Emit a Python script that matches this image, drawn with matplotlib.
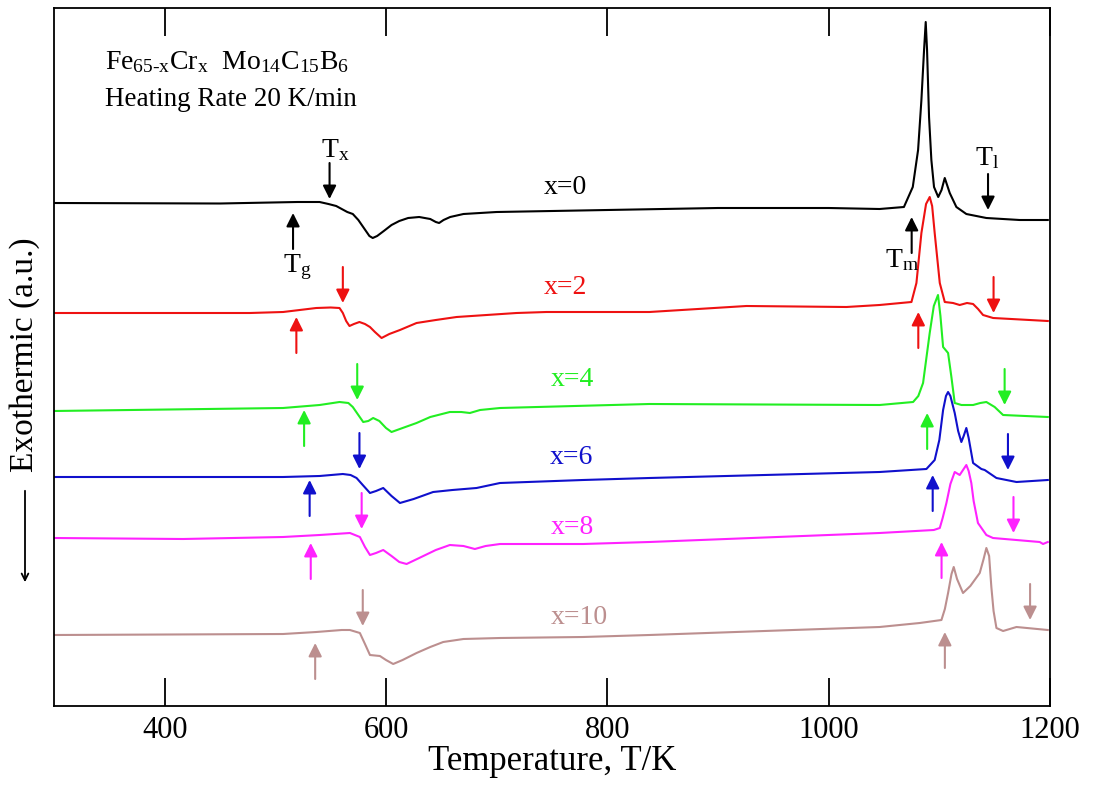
import matplotlib
matplotlib.use('Agg')
import matplotlib.pyplot as plt

plt.rcParams['font.family'] = ['Liberation Serif', 'DejaVu Serif']
plt.rcParams['mathtext.fontset'] = 'custom'
plt.rcParams['mathtext.rm'] = 'Liberation Serif'
plt.rcParams['mathtext.default'] = 'regular'

# DSC 曲线数据 (温度 K, 信号 a.u., 已含纵向偏移)
T0 = [300, 450, 520, 540, 548, 555, 560, 565, 570, 575, 580, 585, 588, 592, 598, 605, 612, 620, 630, 640, 645,
      648, 652, 658, 670, 700, 800, 900,
      1000, 1046, 1068, 1076, 1080.8, 1083.8, 1086.2, 1087.7, 1088.9, 1090.7, 1092.8, 1095.2, 1099, 1102, 1104.9,
      1109.4, 1115.4, 1124.4, 1142.5, 1172.6, 1198]
S0 = [503, 502.5, 504, 504, 502, 500, 497, 494, 492, 486, 478, 470, 468, 470, 475, 481, 485, 488, 489, 487, 484,
      483, 486, 489, 492, 494, 496, 498,
      498, 497, 499, 519, 556, 606, 656, 684, 656, 589, 546, 519, 509, 516, 528,
      513, 499, 492, 488, 486, 486]

T2 = [300, 477, 507, 537, 550, 558, 561, 564, 567, 571, 576, 581, 585.5, 590, 596, 603, 612.6, 627.6, 645, 663.8,
      718, 745, 838, 925.7, 1016, 1046,
      1074.8, 1079.3, 1083.8, 1088, 1091.3, 1093.5, 1095.8, 1100.4, 1104.9, 1112.4, 1118.4, 1125, 1130.5, 1135,
      1139.5, 1148.6, 1198]
S2 = [393, 393, 394, 398, 398.5, 398, 393, 385, 380, 382, 384, 382, 379, 374, 368, 372, 376, 383, 386, 389,
      393, 394, 394, 400, 399, 401,
      404, 423, 473, 502, 509, 500, 473, 423, 404, 403, 401, 403, 402, 397,
      391, 388, 385]

T4 = [300, 507, 540, 558, 566, 570, 575, 579.4, 584, 588.4, 594, 600, 605, 615, 627.6, 640, 657.7, 668, 675.8, 685,
      703, 838, 1046, 1076.3, 1081, 1085.3, 1091.3, 1095, 1098.8,
      1101, 1103.4, 1107.9, 1110.9, 1113.9, 1120, 1130.5, 1137, 1142.5, 1150, 1157.6, 1198]
S4 = [295, 298, 301, 304, 303, 299, 291, 284, 285, 288, 285, 278, 274, 278, 283, 289, 294, 294, 293, 296,
      298, 302, 301, 304, 310, 323, 373, 400, 411,
      390, 359, 353, 329, 303, 301, 301, 303, 304, 299, 291, 289]

T6 = [300, 507, 540, 561, 568, 573.4, 579, 585.5, 591, 597.5, 605, 612.6, 625, 642.6, 660, 681.8, 703, 778, 838,
      1046, 1088.3, 1095.8, 1100, 1103.4, 1106, 1107.9, 1110, 1113.9, 1117, 1119.9, 1122, 1124.4, 1126.5, 1128.9,
      1130.5, 1138, 1141, 1151.6, 1169.7, 1198]
S6 = [229, 229, 230, 232, 231, 228, 221, 213, 215, 218, 210, 203, 207, 214, 216, 218, 223, 226, 228,
      234, 237, 246, 266, 296, 310, 314, 310, 293, 275, 264, 270, 278, 268, 253,
      243, 237, 236, 228, 224, 226]

T8 = [300, 416.6, 507, 540, 567.4, 576.4, 581, 585.5, 591, 597.5, 605, 612, 618.6, 630, 645, 657.7, 670, 680.3, 690,
      703, 778, 838, 1046, 1095, 1100.4, 1103, 1106.4, 1110, 1113.9, 1118.4, 1124.4, 1126.5, 1128.9, 1131, 1134.9,
      1142.5, 1148.5, 1190.7, 1193.7, 1198]
S8 = [168, 167, 169, 171, 173, 169, 159, 151, 153, 156, 150, 144, 142, 148, 156, 161, 160, 157, 160,
      162, 162, 164, 173, 176, 178, 188, 203, 222, 234, 231, 241, 235, 223, 205, 183,
      171, 168, 164, 162, 164]

T10 = [300, 507, 537, 560, 567.4, 576.4, 581, 585.5, 594.5, 600, 606.5, 615, 627.6, 640, 651.7, 670, 703, 778, 838,
       1046, 1082.3, 1101.9, 1105, 1107.9, 1111, 1113, 1116, 1121.4, 1128, 1136.5, 1140, 1142.5, 1145, 1147, 1149,
       1151.6, 1157.6, 1169.7, 1198]
S10 = [71, 72, 74, 76, 76, 73, 62, 51, 50, 46, 42, 46, 53, 59, 64, 67, 68, 69, 71,
       79, 83, 86, 97, 113, 132, 139, 127, 113, 120, 133, 147, 158, 150, 119, 95,
       78, 75, 79, 76]

labels = ['x=0', 'x=2', 'x=4', 'x=6', 'x=8', 'x=10']
colors = ['black', '#ee1111', '#22ee22', '#1010cc', '#ff22ff', '#bc8f8f']
label_T = [762, 762, 768, 768, 768, 775]
label_S = [518, 419, 326, 249, 179, 89]

# 特征温度箭头 (Tg 向上, Tx 向下, Tm 向上, Tl 向下)
Tg = [516, 519, 526, 531, 532, 536]
Tg_tip = [493, 389, 296, 226, 163, 63]
Tx = [549, 561, 574, 576, 578, 579]
Tx_tip = [507, 403, 306, 237, 177, 80]
Tm = [1075, 1081, 1089, 1094, 1102, 1105]
Tm_tip = [489, 394, 293, 231, 164, 74]
Tl = [1144, 1149, 1159, 1162, 1167, 1182]
Tl_tip = [496, 393, 301, 236, 173, 86]
arrow_len = 36

curves = [(T0, S0), (T2, S2), (T4, S4), (T6, S6), (T8, S8), (T10, S10)]

fig = plt.figure(figsize=(10.98, 7.87), dpi=100)
ax = fig.add_axes([54 / 1098, 1 - 706 / 787, 996 / 1098, 698 / 787])

for i, (t, s) in enumerate(curves):
    c = colors[i]
    ax.plot(t, s, color=c, lw=1.5)
    ax.text(label_T[i], label_S[i], labels[i], color=c, fontsize=20, ha='center', va='center')
    ap = dict(arrowstyle='-|>', color=c, lw=1.5, mutation_scale=20, shrinkA=0, shrinkB=0)
    ax.annotate('', xy=(Tg[i], Tg_tip[i]), xytext=(Tg[i], Tg_tip[i] - arrow_len), arrowprops=ap)
    ax.annotate('', xy=(Tx[i], Tx_tip[i]), xytext=(Tx[i], Tx_tip[i] + arrow_len), arrowprops=ap)
    ax.annotate('', xy=(Tm[i], Tm_tip[i]), xytext=(Tm[i], Tm_tip[i] - arrow_len), arrowprops=ap)
    ax.annotate('', xy=(Tl[i], Tl_tip[i]), xytext=(Tl[i], Tl_tip[i] + arrow_len), arrowprops=ap)

ax.text(554, 556, '$T_x$', fontsize=20, ha='center', va='center')
ax.text(520, 439, '$T_g$', fontsize=20, ha='center', va='center')
ax.text(1066, 446, '$T_m$', fontsize=20, ha='center', va='center')
ax.text(1143, 548, '$T_l$', fontsize=20, ha='center', va='center')

ax.text(346, 644, r'Fe$_{65\text{-}x}$Cr$_x$  Mo$_{14}$C$_{15}$B$_6$', fontsize=20, ha='left', va='center')
ax.text(346, 606, 'Heating Rate 20 K/min', fontsize=19.5, ha='left', va='center')

ax.set_xlim(300, 1200)
ax.set_ylim(0, 698)
ax.set_xticks([400, 600, 800, 1000, 1200])
ax.set_yticks([])
ax.tick_params(axis='x', direction='in', length=20, width=1.3, top=True, labelsize=22, pad=7)
for sp in ax.spines.values():
    sp.set_linewidth(1.3)
ax.set_xlabel('Temperature, T/K', fontsize=25, labelpad=0)

fig.text(25 / 1098, 1 - 355 / 787, 'Exothermic (a.u.)', rotation=90, fontsize=24, ha='center', va='center')
fig.add_artist(matplotlib.patches.FancyArrowPatch((25 / 1098, 1 - 488 / 787), (25 / 1098, 1 - 585 / 787),
                                                  transform=fig.transFigure, arrowstyle='->', lw=1.3,
                                                  mutation_scale=12, color='black'))

fig.savefig('out.png', dpi=100)
